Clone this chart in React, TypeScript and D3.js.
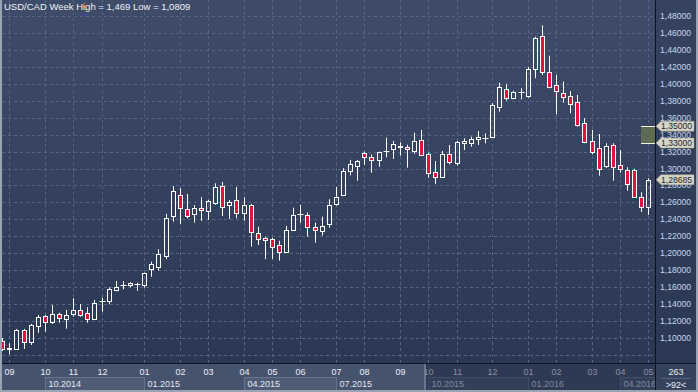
import * as d3 from 'd3';

// weekly USD/CAD candles (oldest first)
const opens = [
  1.0969, 1.0874, 1.0874, 1.1095, 1.0957, 1.1142, 1.126, 1.1193, 1.128, 1.1228,
  1.128, 1.1331, 1.1295, 1.1228, 1.1435, 1.1441, 1.1563, 1.1624, 1.1629, 1.1632,
  1.1622, 1.1811, 1.1842, 1.1972, 1.2444, 1.2688, 1.2519, 1.246, 1.2531, 1.2503,
  1.2597, 1.2794, 1.2573, 1.2629, 1.2479, 1.257, 1.2236, 1.2177, 1.2169, 1.2098,
  1.2019, 1.2275, 1.2458, 1.2448, 1.2307, 1.2267, 1.2349, 1.2587, 1.2688, 1.2975,
  1.3034, 1.3187, 1.3136, 1.3097, 1.3201, 1.3234, 1.3256, 1.3251, 1.3211, 1.3333,
  1.3168, 1.2959, 1.29, 1.3168, 1.3062, 1.3298, 1.3305, 1.3345, 1.3355, 1.3369,
  1.373, 1.3935, 1.3832, 1.3901, 1.3856, 1.4178, 1.456, 1.4136, 1.3982, 1.3888,
  1.3854, 1.3782, 1.3535, 1.3325, 1.3239, 1.3026, 1.3278, 1.3038, 1.2983, 1.2983,
  1.2661, 1.255,
];
const highs = [
  1.1, 1.0938, 1.1107, 1.1107, 1.1166, 1.1272, 1.1272, 1.139, 1.1299, 1.1331,
  1.1469, 1.1402, 1.1363, 1.1449, 1.1476, 1.1599, 1.1673, 1.1673, 1.1658, 1.1653,
  1.1771, 1.1901, 1.2047, 1.2464, 1.2794, 1.2767, 1.27, 1.257, 1.2661, 1.2629,
  1.2826, 1.2841, 1.2629, 1.2782, 1.2661, 1.2582, 1.2314, 1.2196, 1.2184, 1.2148,
  1.2322, 1.2538, 1.257, 1.2479, 1.2361, 1.2432, 1.2637, 1.2782, 1.3003, 1.3101,
  1.3101, 1.3199, 1.3168, 1.3199, 1.3364, 1.3325, 1.331, 1.3281, 1.3423, 1.3455,
  1.3187, 1.3089, 1.3207, 1.3278, 1.3325, 1.3357, 1.3376, 1.3443, 1.3416, 1.377,
  1.4013, 1.3998, 1.3918, 1.3947, 1.4195, 1.4556, 1.469, 1.4332, 1.4104, 1.4025,
  1.3915, 1.3868, 1.3593, 1.3455, 1.3408, 1.3298, 1.3298, 1.3219, 1.3015, 1.2998,
  1.272, 1.2885,
];
const lows = [
  1.0847, 1.0809, 1.0865, 1.0871, 1.0918, 1.1063, 1.1075, 1.1166, 1.1181, 1.111,
  1.1252, 1.1252, 1.1181, 1.1213, 1.1311, 1.1398, 1.1551, 1.1575, 1.1599, 1.1558,
  1.1594, 1.1724, 1.1795, 1.1929, 1.2373, 1.2346, 1.2413, 1.2361, 1.2385, 1.2393,
  1.2573, 1.244, 1.2405, 1.2413, 1.2385, 1.2078, 1.2098, 1.1933, 1.1933, 1.1913,
  1.2007, 1.2263, 1.2361, 1.2196, 1.2125, 1.2208, 1.2302, 1.2562, 1.268, 1.292,
  1.2857, 1.3042, 1.2951, 1.3022, 1.3133, 1.3113, 1.3152, 1.301, 1.3175, 1.3156,
  1.2892, 1.2818, 1.2888, 1.305, 1.3034, 1.3219, 1.3258, 1.3278, 1.3298, 1.336,
  1.3671, 1.3801, 1.3817, 1.3817, 1.3836, 1.4065, 1.4104, 1.3947, 1.364, 1.3777,
  1.3652, 1.3494, 1.3298, 1.3168, 1.2916, 1.3006, 1.2857, 1.2951, 1.2739, 1.2661,
  1.2487, 1.2452,
];
const closes = [
  1.0871, 1.0878, 1.1095, 1.0957, 1.1154, 1.1252, 1.1193, 1.1284, 1.1233, 1.1272,
  1.1331, 1.1275, 1.1228, 1.1417, 1.1439, 1.1579, 1.1599, 1.1628, 1.1646, 1.1636,
  1.1764, 1.1874, 1.1988, 1.2413, 1.2731, 1.2531, 1.2444, 1.2531, 1.2507, 1.2621,
  1.2779, 1.255, 1.2605, 1.2479, 1.2566, 1.2248, 1.2172, 1.2153, 1.2071, 1.2012,
  1.2271, 1.2448, 1.2462, 1.2314, 1.2271, 1.2322, 1.257, 1.2661, 1.2969, 1.305,
  1.3089, 1.3133, 1.3097, 1.3192, 1.3205, 1.329, 1.326, 1.3227, 1.3325, 1.3156,
  1.2944, 1.2904, 1.3172, 1.3074, 1.331, 1.3325, 1.3345, 1.3369, 1.3359, 1.3753,
  1.3959, 1.3829, 1.3903, 1.3905, 1.4175, 1.4537, 1.4136, 1.3966, 1.3911, 1.385,
  1.3765, 1.351, 1.331, 1.3199, 1.2998, 1.3262, 1.3015, 1.2991, 1.2821, 1.2668,
  1.255, 1.28685,
];

// month ticks on the time axis: bar index + label
const monthIdx = [1, 6, 10, 14, 20, 25, 29, 34, 38, 42, 47, 51, 56, 60, 64, 69, 74, 78, 83, 87, 91];
const monthLabels = ['09', '10', '11', '12', '01', '02', '03', '04', '05', '06', '07', '08', '09', '10', '11', '12', '01', '02', '03', '04', '05'];
const quarterIdx = [6, 20, 34, 47, 60, 74, 87];
const quarterLabels = ['10.2014', '01.2015', '04.2015', '07.2015', '10.2015', '01.2016', '04.2016'];

const priceTicks = d3.range(1.08, 1.501, 0.02);
const labelTicks = d3.range(1.1, 1.481, 0.02);
const zoneTop = 1.35;
const zoneBottom = 1.33;
const lastPrice = 1.28685;

const W = 698;
const H = 392;
const plotRight = 655;
const plotBottom = 363;
const splitX = 425; // start of the dimmed part of the time axis
const FONT = '"Liberation Sans", Arial, sans-serif';

const fmt = (v: number) => d3.format('.5f')(v).replace('.', ',');

const App = () => {
  const x = d3.scaleLinear().domain([0, opens.length - 1]).range([2.2, 648.3]);
  const y = d3.scaleLinear().domain([1.1, 1.48]).range([338, 16]);
  const px = (i: number) => Math.round(x(i)) + 0.5;
  const py = (v: number) => Math.round(y(v)) + 0.5;

  const qEnd = (k: number) => (k + 1 < quarterIdx.length ? px(quarterIdx[k + 1]) : plotRight);

  return (
    <svg width={W} height={H} style={{ position: 'absolute', left: 0, top: 0, display: 'block' }} fontFamily={FONT}>
      <defs>
        <linearGradient id="bg" x1="0" y1="0" x2="0" y2="1">
          <stop offset="0" stopColor="#3e4c6a" />
          <stop offset="1" stopColor="#2b3854" />
        </linearGradient>
        <linearGradient id="axbg" x1="0" y1="0" x2="0" y2="1">
          <stop offset="0" stopColor="#36435f" />
          <stop offset="1" stopColor="#2b3853" />
        </linearGradient>
        <clipPath id="plotClip">
          <rect x={2} y={0} width={plotRight - 2} height={plotBottom} />
        </clipPath>
      </defs>

      <rect x={0} y={0} width={W} height={H} fill="#2f3b56" />
      <rect x={0} y={0} width={plotRight} height={plotBottom} fill="url(#bg)" />
      <rect x={plotRight} y={0} width={W - plotRight} height={plotBottom} fill="url(#axbg)" />

      {/* grid */}
      <g clipPath="url(#plotClip)" stroke="#566586" strokeWidth={1} strokeDasharray="3,3">
        {priceTicks.map((t) => (
          <line key={'h' + t} x1={2} x2={plotRight} y1={py(t)} y2={py(t)} />
        ))}
        {monthIdx.map((i) => (
          <line key={'v' + i} x1={px(i)} x2={px(i)} y1={0} y2={plotBottom} />
        ))}
      </g>

      {/* title */}
      <text x={4} y={10} fontSize={9.5} fill="#eef1f6">
        USD/CAD Week High = 1,469 Low = 1,0809
      </text>

      {/* candles */}
      <g clipPath="url(#plotClip)">
        {opens.map((o, i) => {
          const c = closes[i];
          const cx = px(i);
          const top = Math.round(y(Math.max(o, c)));
          const bot = Math.round(y(Math.min(o, c)));
          const hi = y(highs[i]);
          const lo = y(lows[i]);
          const bear = c < o;
          if (bot - top < 1) {
            return (
              <g key={i} stroke="#ffffff" strokeWidth={1}>
                <line x1={cx} x2={cx} y1={hi} y2={lo} />
                <line x1={cx - 3} x2={cx + 3} y1={top + 0.5} y2={top + 0.5} />
              </g>
            );
          }
          return (
            <g key={i} stroke="#ffffff" strokeWidth={1}>
              <line x1={cx} x2={cx} y1={hi} y2={top + 0.5} />
              <line x1={cx} x2={cx} y1={bot + 0.5} y2={lo} />
              <rect x={cx - 2} y={top + 0.5} width={4} height={bot - top} fill={bear ? '#e0143c' : 'none'} />
            </g>
          );
        })}
      </g>

      {/* zone box */}
      <rect x={641} y={py(zoneTop)} width={plotRight - 641} height={py(zoneBottom) - py(zoneTop)} fill="#5c6b52" />
      <line x1={641} x2={plotRight} y1={py(zoneTop)} y2={py(zoneTop)} stroke="#f2f2e0" />
      <line x1={641} x2={plotRight} y1={py(zoneBottom)} y2={py(zoneBottom)} stroke="#f2f2e0" />

      {/* price axis */}
      <g fontSize={8.6} fill="#c6d6ee">
        {labelTicks.map((t) => (
          <text key={t} x={660} y={y(t) + 3}>
            {fmt(t)}
          </text>
        ))}
      </g>
      {[zoneTop, zoneBottom, lastPrice].map((v) => {
        const yy = y(v);
        return (
          <g key={v}>
            <path
              d={`M656,${yy} L661,${yy - 5} L694,${yy - 5} L694,${yy + 5} L661,${yy + 5} Z`}
              fill="#d6d5c5"
              stroke="#9c9c90"
              strokeWidth={0.5}
            />
            <text x={661} y={yy + 3.2} fontSize={8.6} fill="#1e2533">
              {fmt(v)}
            </text>
          </g>
        );
      })}

      {/* time axis */}
      <rect x={2} y={plotBottom} width={splitX - 2} height={H - plotBottom} fill="#45536d" />
      <rect x={splitX} y={plotBottom} width={plotRight - splitX} height={H - plotBottom} fill="#2e3a54" />
      {quarterIdx.map((qi, k) =>
        k % 2 === 0 ? (
          <rect
            key={'qb' + k}
            x={px(qi)}
            y={377.5}
            width={Math.min(qEnd(k), plotRight) - px(qi)}
            height={13}
            fill={px(qi) < splitX ? '#4e5c76' : '#323f59'}
            stroke={px(qi) < splitX ? '#66738b' : '#3f4c66'}
          />
        ) : null,
      )}
      <line x1={splitX} x2={splitX} y1={plotBottom} y2={H} stroke="#6b7790" strokeWidth={2} />
      <g fontSize={9} textAnchor="middle">
        {monthIdx.map((i, k) => (
          <text key={'m' + k} x={px(i)} y={375} fill={px(i) < splitX ? '#e9eef6' : '#8690a4'}>
            {monthLabels[k]}
          </text>
        ))}
      </g>
      <g fontSize={9}>
        {quarterIdx.map((qi, k) => (
          <text key={'q' + k} x={px(qi) + 3} y={387} fill={px(qi) < splitX ? '#e4e9f2' : '#7f899d'}>
            {quarterLabels[k]}
          </text>
        ))}
      </g>

      {/* corner box */}
      <rect x={plotRight} y={plotBottom} width={W - plotRight} height={H - plotBottom} fill="#35425c" />
      <line x1={661} x2={691} y1={378.5} y2={378.5} stroke="#56637c" />
      <text x={676} y={375} fontSize={9} textAnchor="middle" fill="#e9eef6">263</text>
      <text x={676} y={388} fontSize={9} textAnchor="middle" fill="#e9eef6">&gt;92&lt;</text>

      {/* frame lines */}
      <line x1={plotRight + 0.5} x2={plotRight + 0.5} y1={0} y2={H} stroke="#0c1220" />
      <line x1={0} x2={W} y1={plotBottom + 0.5} y2={plotBottom + 0.5} stroke="#0c1220" />
      <line x1={1} x2={1} y1={0} y2={H} stroke="#9aa3b4" strokeWidth={2} />
      <line x1={W - 1} x2={W - 1} y1={0} y2={H} stroke="#9aa3b4" strokeWidth={2} />
      <line x1={0} x2={W} y1={H - 1} y2={H - 1} stroke="#9aa3b4" strokeWidth={2} />
    </svg>
  );
};

export default App;
